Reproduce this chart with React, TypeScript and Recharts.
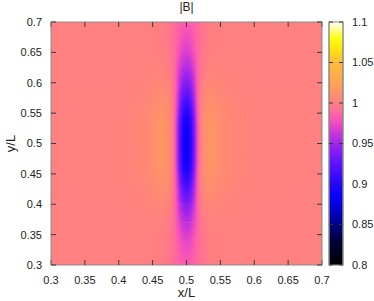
import React from 'react';
import { ScatterChart, Scatter, XAxis, YAxis, ReferenceArea } from 'recharts';

const FONT = '"Liberation Sans", Arial, Helvetica, sans-serif';
const X_MIN = 0.3;
const X_MAX = 0.7;
const CB_MIN = 0.8;
const CB_MAX = 1.1;

const xTicks = [0.3, 0.35, 0.4, 0.45, 0.5, 0.55, 0.6, 0.65, 0.7];
const yTicks = [0.3, 0.35, 0.4, 0.45, 0.5, 0.55, 0.6, 0.65, 0.7];
const cbTicks = [0.8, 0.85, 0.9, 0.95, 1, 1.05, 1.1];

// sample columns (x/L) and rows (y/L) of |B|
const xCols = [0.3, 0.4, 0.44, 0.465, 0.475, 0.48, 0.484, 0.488, 0.492, 0.496, 0.5, 0.504, 0.508, 0.512, 0.516, 0.52, 0.525, 0.535, 0.56, 0.6, 0.7];
const yRows = [0.3, 0.34, 0.37, 0.4, 0.43, 0.46, 0.48, 0.5, 0.52, 0.54, 0.57, 0.6, 0.63, 0.66, 0.7];

const row030 = [1.000, 1.000, 1.000, 0.999, 0.995, 0.992, 0.989, 0.986, 0.984, 0.983, 0.982, 0.983, 0.984, 0.986, 0.989, 0.992, 0.995, 0.999, 1.000, 1.000, 1.000];
const row034 = [1.000, 1.000, 1.000, 0.999, 0.996, 0.992, 0.988, 0.982, 0.977, 0.973, 0.972, 0.973, 0.977, 0.982, 0.988, 0.992, 0.996, 0.999, 1.000, 1.000, 1.000];
const row037 = [1.000, 1.000, 1.001, 1.001, 0.997, 0.992, 0.985, 0.975, 0.966, 0.960, 0.958, 0.960, 0.966, 0.975, 0.985, 0.992, 0.997, 1.001, 1.001, 1.000, 1.000];
const row040 = [1.000, 1.000, 1.002, 1.005, 1.001, 0.995, 0.983, 0.967, 0.952, 0.943, 0.940, 0.943, 0.952, 0.967, 0.983, 0.995, 1.001, 1.005, 1.002, 1.000, 1.000];
const row043 = [1.000, 1.001, 1.004, 1.011, 1.006, 0.997, 0.981, 0.958, 0.934, 0.920, 0.915, 0.920, 0.934, 0.958, 0.981, 0.997, 1.006, 1.011, 1.004, 1.001, 1.000];
const row046 = [1.000, 1.001, 1.006, 1.015, 1.008, 0.997, 0.977, 0.947, 0.917, 0.899, 0.893, 0.899, 0.917, 0.947, 0.977, 0.997, 1.008, 1.015, 1.006, 1.001, 1.000];
const row048 = [1.000, 1.001, 1.006, 1.016, 1.008, 0.996, 0.975, 0.944, 0.913, 0.894, 0.887, 0.894, 0.913, 0.944, 0.975, 0.996, 1.008, 1.016, 1.006, 1.001, 1.000];
const row050 = [1.000, 1.001, 1.006, 1.016, 1.009, 0.997, 0.975, 0.943, 0.911, 0.892, 0.885, 0.892, 0.911, 0.943, 0.975, 0.997, 1.009, 1.016, 1.006, 1.001, 1.000];
const row052 = [1.000, 1.001, 1.006, 1.016, 1.008, 0.996, 0.975, 0.944, 0.913, 0.894, 0.887, 0.894, 0.913, 0.944, 0.975, 0.996, 1.008, 1.016, 1.006, 1.001, 1.000];
const row054 = [1.000, 1.001, 1.006, 1.015, 1.008, 0.997, 0.977, 0.947, 0.917, 0.899, 0.893, 0.899, 0.917, 0.947, 0.977, 0.997, 1.008, 1.015, 1.006, 1.001, 1.000];
const row057 = [1.000, 1.001, 1.004, 1.011, 1.006, 0.997, 0.981, 0.958, 0.934, 0.920, 0.915, 0.920, 0.934, 0.958, 0.981, 0.997, 1.006, 1.011, 1.004, 1.001, 1.000];
const row060 = [1.000, 1.000, 1.002, 1.005, 1.001, 0.995, 0.983, 0.967, 0.952, 0.943, 0.940, 0.943, 0.952, 0.967, 0.983, 0.995, 1.001, 1.005, 1.002, 1.000, 1.000];
const row063 = [1.000, 1.000, 1.001, 1.001, 0.997, 0.992, 0.985, 0.975, 0.966, 0.960, 0.958, 0.960, 0.966, 0.975, 0.985, 0.992, 0.997, 1.001, 1.001, 1.000, 1.000];
const row066 = [1.000, 1.000, 1.000, 0.999, 0.996, 0.992, 0.988, 0.982, 0.977, 0.973, 0.972, 0.973, 0.977, 0.982, 0.988, 0.992, 0.996, 0.999, 1.000, 1.000, 1.000];
const row070 = [1.000, 1.000, 1.000, 0.999, 0.995, 0.992, 0.989, 0.986, 0.984, 0.983, 0.982, 0.983, 0.984, 0.986, 0.989, 0.992, 0.995, 0.999, 1.000, 1.000, 1.000];

const field = [row030, row034, row037, row040, row043, row046, row048, row050, row052, row054, row057, row060, row063, row066, row070];

// colour palette of the colour box
const paletteValues = [0.8, 0.83, 0.85, 0.87, 0.89, 0.92, 0.945, 0.965, 0.982, 1.0, 1.02, 1.05, 1.065, 1.08, 1.1];
const paletteColors = ['#000000', '#00003c', '#000088', '#0000d0', '#1000ff', '#5010ff', '#9020f0', '#d038d8', '#ff5ab0', '#ff8080', '#ff9c5c', '#ffbc38', '#ffe010', '#ffff10', '#ffffff'];

function hexToRgb(h: string) {
  const n = parseInt(h.slice(1), 16);
  return [(n >> 16) & 255, (n >> 8) & 255, n & 255];
}

function colorOf(v: number) {
  const pv = paletteValues;
  if (v <= pv[0]) return paletteColors[0];
  if (v >= pv[pv.length - 1]) return paletteColors[pv.length - 1];
  let i = 0;
  while (i < pv.length - 2 && v > pv[i + 1]) i++;
  const t = (v - pv[i]) / (pv[i + 1] - pv[i]);
  const a = hexToRgb(paletteColors[i]);
  const b = hexToRgb(paletteColors[i + 1]);
  const c = a.map((av, k) => Math.round(av + (b[k] - av) * t));
  return `rgb(${c[0]},${c[1]},${c[2]})`;
}

const gridPoints = yRows.flatMap((y, i) => xCols.map((x, j) => ({ x, y, v: field[i][j] })));
const cbPoints = cbTicks.map((v) => ({ x: 0.5, y: v }));
// colour box stops listed from the top (1.1) down to the bottom (0.8)
const cbStops = paletteValues.map((v, k) => ({ v, c: paletteColors[k] })).reverse();

const TICK_STYLE = { fontSize: 11, fill: '#222', fontFamily: FONT };
const BORDER = '#8a8a8a';
const TICKC = '#3a3a3a';
const NoShape = () => <g />;
const empty = () => '';

function Defs() {
  return (
    <svg width={0} height={0} style={{ position: 'absolute', left: 0, top: 0 }}>
      <defs>
        {yRows.map((_, i) => (
          <linearGradient key={i} id={`row${i}`} x1="0" y1="0" x2="1" y2="0">
            {xCols.map((x, j) => (
              <stop key={j} offset={(x - X_MIN) / (X_MAX - X_MIN)} stopColor={colorOf(field[i][j])} />
            ))}
          </linearGradient>
        ))}
        <linearGradient id="fadeGrad" x1="0" y1="0" x2="0" y2="1">
          <stop offset="0" stopColor="#ffffff" />
          <stop offset="1" stopColor="#000000" />
        </linearGradient>
        <mask id="fadeMask" maskUnits="objectBoundingBox" maskContentUnits="objectBoundingBox" x="0" y="0" width="1" height="1">
          <rect x="0" y="0" width="1" height="1" fill="url(#fadeGrad)" />
        </mask>
        <linearGradient id="cbGrad" x1="0" y1="0" x2="0" y2="1">
          {cbStops.map((s, k) => (
            <stop key={k} offset={(CB_MAX - s.v) / (CB_MAX - CB_MIN)} stopColor={s.c} />
          ))}
        </linearGradient>
      </defs>
    </svg>
  );
}

function Layer({ children }: { children: React.ReactNode }) {
  return <div style={{ position: 'absolute', left: 0, top: 0 }}>{children}</div>;
}

export default function App() {
  const bands: React.ReactNode[] = [];
  for (let i = 0; i < yRows.length - 1; i++) {
    bands.push(
      <ReferenceArea
        key={`b${i}`}
        x1={X_MIN}
        x2={X_MAX}
        y1={yRows[i]}
        y2={yRows[i + 1]}
        ifOverflow="visible"
        shape={(p: any) => (
          <rect x={p.x} y={p.y} width={p.width} height={p.height} fill={`url(#row${i})`} shapeRendering="crispEdges" />
        )}
      />
    );
    bands.push(
      <ReferenceArea
        key={`o${i}`}
        x1={X_MIN}
        x2={X_MAX}
        y1={yRows[i]}
        y2={yRows[i + 1]}
        ifOverflow="visible"
        shape={(p: any) => (
          <rect x={p.x} y={p.y} width={p.width} height={p.height} fill={`url(#row${i + 1})`} mask="url(#fadeMask)" shapeRendering="crispEdges" />
        )}
      />
    );
  }

  return (
    <div style={{ position: 'absolute', left: 0, top: 0, width: 374, height: 301, background: '#ffffff', fontFamily: FONT }}>
      <Defs />
      {/* heat map */}
      <Layer>
        <ScatterChart width={374} height={301} margin={{ top: 22, right: 52, bottom: 36, left: 51 }}>
          <XAxis type="number" dataKey="x" domain={[X_MIN, X_MAX]} allowDataOverflow hide />
          <YAxis type="number" dataKey="y" domain={[X_MIN, X_MAX]} allowDataOverflow hide />
          {bands}
          <Scatter data={gridPoints} fill="none" isAnimationActive={false} shape={NoShape} />
        </ScatterChart>
      </Layer>
      {/* colour box */}
      <Layer>
        <ScatterChart width={374} height={301} margin={{ top: 22, right: 31, bottom: 36, left: 329 }}>
          <XAxis type="number" dataKey="x" domain={[0, 1]} allowDataOverflow hide />
          <YAxis type="number" dataKey="y" domain={[CB_MIN, CB_MAX]} allowDataOverflow hide />
          <ReferenceArea
            x1={0}
            x2={1}
            y1={CB_MIN}
            y2={CB_MAX}
            ifOverflow="visible"
            shape={(p: any) => <rect x={p.x} y={p.y} width={p.width} height={p.height} fill="url(#cbGrad)" stroke={BORDER} strokeWidth={1} />}
          />
          <Scatter data={cbPoints} fill="none" isAnimationActive={false} shape={NoShape} />
        </ScatterChart>
      </Layer>
      {/* main axes, border and labels */}
      <Layer>
        <ScatterChart width={374} height={301} margin={{ top: 21, right: 51, bottom: 0, left: 0 }}>
          <XAxis
            type="number"
            dataKey="x"
            domain={[X_MIN, X_MAX]}
            ticks={xTicks}
            allowDataOverflow
            orientation="bottom"
            height={36}
            tickSize={-5}
            tickMargin={16}
            axisLine={{ stroke: BORDER }}
            tickLine={{ stroke: TICKC }}
            tick={TICK_STYLE}
            interval={0}
            label={{ value: 'x/L', position: 'insideBottom', offset: 4, fontSize: 13, fill: '#222', fontFamily: FONT }}
          />
          <XAxis
            xAxisId="top"
            type="number"
            dataKey="x"
            domain={[X_MIN, X_MAX]}
            ticks={xTicks}
            allowDataOverflow
            orientation="top"
            height={1}
            tickSize={-5}
            tickFormatter={empty}
            axisLine={{ stroke: BORDER }}
            tickLine={{ stroke: TICKC }}
            interval={0}
            label={{ value: '|B|', position: 'top', offset: 10, fontSize: 12, fill: '#222', fontFamily: FONT }}
          />
          <YAxis
            type="number"
            dataKey="y"
            domain={[X_MIN, X_MAX]}
            ticks={yTicks}
            allowDataOverflow
            orientation="left"
            width={51}
            tickSize={-5}
            tickMargin={14}
            axisLine={{ stroke: BORDER }}
            tickLine={{ stroke: TICKC }}
            tick={TICK_STYLE}
            interval={0}
            label={{ value: 'y/L', angle: -90, position: 'insideLeft', offset: 10, fontSize: 13, fill: '#222', fontFamily: FONT, style: { textAnchor: 'middle' } }}
          />
          <YAxis
            yAxisId="right"
            type="number"
            dataKey="y"
            domain={[X_MIN, X_MAX]}
            ticks={yTicks}
            allowDataOverflow
            orientation="right"
            width={1}
            tickSize={-5}
            tickFormatter={empty}
            axisLine={{ stroke: BORDER }}
            tickLine={{ stroke: TICKC }}
            interval={0}
          />
          <Scatter data={gridPoints} fill="none" isAnimationActive={false} shape={NoShape} />
          <Scatter data={gridPoints} xAxisId="top" yAxisId="right" fill="none" isAnimationActive={false} shape={NoShape} />
        </ScatterChart>
      </Layer>
      {/* colour box axes */}
      <Layer>
        <ScatterChart width={374} height={301} margin={{ top: 22, right: 0, bottom: 36, left: 328 }}>
          <XAxis type="number" dataKey="x" domain={[0, 1]} allowDataOverflow hide />
          <YAxis
            yAxisId="cbr"
            type="number"
            dataKey="y"
            domain={[CB_MIN, CB_MAX]}
            ticks={cbTicks}
            allowDataOverflow
            orientation="right"
            width={31}
            tickSize={-4}
            tickMargin={13}
            axisLine={{ stroke: BORDER }}
            tickLine={{ stroke: TICKC }}
            tick={TICK_STYLE}
            interval={0}
          />
          <YAxis
            yAxisId="cbl"
            type="number"
            dataKey="y"
            domain={[CB_MIN, CB_MAX]}
            ticks={cbTicks}
            allowDataOverflow
            orientation="left"
            width={1}
            tickSize={-4}
            tickFormatter={empty}
            axisLine={{ stroke: BORDER }}
            tickLine={{ stroke: TICKC }}
            interval={0}
          />
          <Scatter data={cbPoints} yAxisId="cbr" fill="none" isAnimationActive={false} shape={NoShape} />
          <Scatter data={cbPoints} yAxisId="cbl" fill="none" isAnimationActive={false} shape={NoShape} />
        </ScatterChart>
      </Layer>
    </div>
  );
}
